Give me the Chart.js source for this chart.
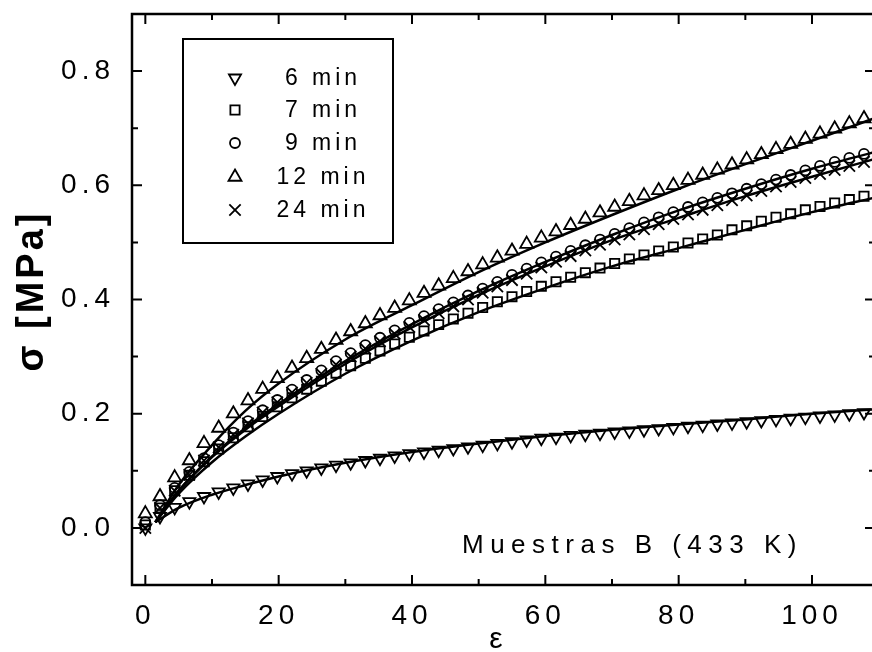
<!DOCTYPE html>
<html>
<head>
<meta charset="utf-8">
<script src="https://cdn.jsdelivr.net/npm/chart.js@4.4.1/dist/chart.umd.min.js"></script>
<style>
  html, body { margin: 0; padding: 0; overflow: hidden; background: #fff; }
  canvas { display: block; }
</style>
</head>
<body>
<canvas id="grafico_tension" width="872" height="652"></canvas>
<script>
// deformacion (eps) de cada medida
const eps = [0, 2.2, 4.4, 6.6, 8.8, 11, 13.2, 15.4, 17.6, 19.8,
  22, 24.2, 26.4, 28.6, 30.8, 33, 35.2, 37.4, 39.6, 41.8,
  44, 46.2, 48.4, 50.6, 52.8, 55, 57.2, 59.4, 61.6, 63.8,
  66, 68.2, 70.4, 72.6, 74.8, 77, 79.2, 81.4, 83.6, 85.8,
  88, 90.2, 92.4, 94.6, 96.8, 99, 101.2, 103.4, 105.6, 107.8];

// tension [MPa] medida
const s6 = [0.0, 0.02, 0.036, 0.046, 0.055, 0.063, 0.07, 0.077, 0.084, 0.09,
  0.095, 0.1, 0.105, 0.11, 0.114, 0.118, 0.122, 0.126, 0.13, 0.133,
  0.136, 0.139, 0.142, 0.145, 0.148, 0.151, 0.154, 0.157, 0.159, 0.162,
  0.164, 0.166, 0.168, 0.17, 0.172, 0.174, 0.176, 0.178, 0.18, 0.182,
  0.184, 0.186, 0.188, 0.19, 0.192, 0.194, 0.196, 0.198, 0.2, 0.202];
const s7 = [0.005, 0.035, 0.065, 0.092, 0.116, 0.138, 0.158, 0.177, 0.195, 0.212,
  0.228, 0.243, 0.257, 0.271, 0.284, 0.297, 0.31, 0.322, 0.334, 0.345,
  0.356, 0.366, 0.376, 0.386, 0.396, 0.405, 0.414, 0.423, 0.431, 0.439,
  0.447, 0.455, 0.463, 0.471, 0.478, 0.485, 0.492, 0.499, 0.506, 0.513,
  0.522, 0.529, 0.537, 0.544, 0.55, 0.557, 0.563, 0.569, 0.575, 0.581];
const s9 = [0.01, 0.04, 0.07, 0.098, 0.122, 0.145, 0.167, 0.187, 0.206, 0.224,
  0.242, 0.259, 0.276, 0.292, 0.306, 0.32, 0.333, 0.346, 0.359, 0.371,
  0.383, 0.395, 0.407, 0.419, 0.431, 0.443, 0.454, 0.465, 0.475, 0.485,
  0.495, 0.505, 0.515, 0.525, 0.535, 0.544, 0.553, 0.562, 0.57, 0.578,
  0.586, 0.594, 0.602, 0.61, 0.618, 0.626, 0.634, 0.641, 0.648, 0.655];
const s12 = [0.025, 0.055, 0.088, 0.118, 0.148, 0.175, 0.2, 0.223, 0.243, 0.262,
  0.28, 0.297, 0.313, 0.329, 0.344, 0.358, 0.372, 0.385, 0.398, 0.411,
  0.424, 0.437, 0.449, 0.461, 0.473, 0.485, 0.497, 0.508, 0.519, 0.53,
  0.541, 0.552, 0.562, 0.572, 0.582, 0.591, 0.6, 0.609, 0.618, 0.627,
  0.636, 0.645, 0.654, 0.663, 0.672, 0.681, 0.69, 0.699, 0.708, 0.717];
const s24 = [0.0, 0.035, 0.065, 0.093, 0.118, 0.141, 0.163, 0.183, 0.202, 0.22,
  0.237, 0.254, 0.27, 0.286, 0.3, 0.314, 0.327, 0.34, 0.352, 0.364,
  0.376, 0.388, 0.4, 0.412, 0.423, 0.434, 0.445, 0.456, 0.466, 0.476,
  0.486, 0.496, 0.505, 0.514, 0.523, 0.532, 0.541, 0.549, 0.557, 0.565,
  0.574, 0.582, 0.59, 0.598, 0.606, 0.613, 0.62, 0.627, 0.634, 0.641];

// curvas de ajuste
const fitEps = [1.5, 5, 10, 15, 20, 30, 40, 50, 60, 70, 80, 90, 100, 110];
const fit6 = [0.01, 0.035, 0.058, 0.075, 0.09, 0.114, 0.133, 0.148, 0.161, 0.172, 0.181, 0.19, 0.2, 0.208];
const fit7 = [0.01, 0.06, 0.115, 0.16, 0.2, 0.27, 0.328, 0.378, 0.42, 0.458, 0.49, 0.522, 0.553, 0.58];
const fit9 = [0.01, 0.065, 0.125, 0.175, 0.217, 0.292, 0.357, 0.415, 0.466, 0.513, 0.556, 0.594, 0.629, 0.66];
const fit12 = [0.01, 0.075, 0.145, 0.205, 0.253, 0.33, 0.39, 0.448, 0.5, 0.548, 0.594, 0.637, 0.678, 0.72];
const fit24 = [0.01, 0.065, 0.124, 0.172, 0.213, 0.287, 0.351, 0.408, 0.458, 0.504, 0.543, 0.581, 0.615, 0.648];

const etiquetas = ['6 min', '7 min', '9 min', '12 min', '24 min'];
const xTicks = [0, 20, 40, 60, 80, 100];
const xMinor = [10, 30, 50, 70, 90];
const yTicks = [0, 0.2, 0.4, 0.6, 0.8];
const yMinor = [0.1, 0.3, 0.5, 0.7];

const fuente = "'Liberation Sans', Arial, sans-serif";

const marcadores = [
    { pointStyle: 'triangle', rotation: 180, radius: 7 },
    { pointStyle: 'rect', rotation: 0, radius: 6.5 },
    { pointStyle: 'circle', rotation: 0, radius: 5 },
    { pointStyle: 'triangle', rotation: 0, radius: 7.5 },
    { pointStyle: 'crossRot', rotation: 0, radius: 8 }
];

function puntos(xs, ys){
    return xs.map((v, i) => ({ x: v, y: ys[i] }));
}

function serieMarcas(ys, m, label){
    return {
        label: label,
        data: puntos(eps, ys),
        showLine: false,
        pointStyle: m.pointStyle,
        pointRotation: m.rotation,
        pointRadius: m.radius,
        pointBorderWidth: 1.8,
        pointBorderColor: '#000',
        pointBackgroundColor: 'rgba(0,0,0,0)',
        borderColor: '#000'
    };
}

function serieAjuste(ys){
    return {
        label: 'ajuste',
        data: puntos(fitEps, ys),
        borderColor: '#000',
        borderWidth: 2.5,
        pointRadius: 0,
        fill: false,
        cubicInterpolationMode: 'monotone'
    };
}

function dibujaMarca(ctx, m, x, y){
    const r = m.radius;
    ctx.beginPath();
    if (m.pointStyle === 'triangle') {
        let rad = m.rotation * Math.PI / 180;
        ctx.moveTo(x + Math.sin(rad) * r, y - Math.cos(rad) * r);
        rad += 2 * Math.PI / 3;
        ctx.lineTo(x + Math.sin(rad) * r, y - Math.cos(rad) * r);
        rad += 2 * Math.PI / 3;
        ctx.lineTo(x + Math.sin(rad) * r, y - Math.cos(rad) * r);
        ctx.closePath();
    } else if (m.pointStyle === 'rect') {
        const s = r * Math.SQRT1_2;
        ctx.rect(x - s, y - s, 2 * s, 2 * s);
    } else if (m.pointStyle === 'circle') {
        ctx.arc(x, y, r, 0, 2 * Math.PI);
    } else {
        const d = r * Math.SQRT1_2;
        ctx.moveTo(x - d, y - d); ctx.lineTo(x + d, y + d);
        ctx.moveTo(x - d, y + d); ctx.lineTo(x + d, y - d);
    }
    ctx.stroke();
}

function sinPadding(s){
    s.paddingTop = 0;
    s.paddingBottom = 0;
    s.paddingLeft = 0;
    s.paddingRight = 0;
}

const marco = {
    id: 'marco',
    beforeDraw(chart){
        const ctx = chart.ctx;
        ctx.save();
        ctx.fillStyle = '#fff';
        ctx.fillRect(0, 0, chart.width, chart.height);
        ctx.restore();
        ctx.letterSpacing = '5px';
    },
    afterDraw(chart){
        const {ctx, chartArea: a, scales: {x, y}} = chart;
        // el eje derecho queda justo fuera del recorte de la figura
        const derecha = a.right + 3;
        ctx.save();
        ctx.letterSpacing = '0px';
        ctx.strokeStyle = '#000';
        ctx.lineWidth = 2.5;
        ctx.beginPath();
        ctx.moveTo(derecha + 2, a.top);
        ctx.lineTo(a.left, a.top);
        ctx.lineTo(a.left, a.bottom);
        ctx.lineTo(derecha + 2, a.bottom);
        ctx.stroke();

        // marcas hacia adentro
        ctx.lineWidth = 2;
        ctx.beginPath();
        const tx = (v, len) => {
            const px = x.getPixelForValue(v);
            ctx.moveTo(px, a.bottom); ctx.lineTo(px, a.bottom - len);
            ctx.moveTo(px, a.top); ctx.lineTo(px, a.top + len);
        };
        const ty = (v, len) => {
            const py = y.getPixelForValue(v);
            ctx.moveTo(a.left, py); ctx.lineTo(a.left + len, py);
            ctx.moveTo(derecha, py); ctx.lineTo(derecha - len, py);
        };
        xTicks.forEach(v => tx(v, 10));
        xMinor.forEach(v => tx(v, 6));
        yTicks.forEach(v => ty(v, 10));
        yMinor.forEach(v => ty(v, 6));
        ctx.stroke();

        // leyenda
        ctx.lineWidth = 2;
        ctx.strokeRect(183, 39, 210, 204);
        const filas = [78, 110, 143, 177, 210];
        ctx.lineWidth = 1.8;
        marcadores.forEach((m, i) => dibujaMarca(ctx, m, 235, filas[i]));
        ctx.fillStyle = '#000';
        ctx.font = '23px ' + fuente;
        ctx.letterSpacing = '4px';
        ctx.textAlign = 'center';
        ctx.textBaseline = 'middle';
        etiquetas.forEach((t, i) => ctx.fillText(t, 323, filas[i] + 1));

        // texto de la muestra
        ctx.font = '26px ' + fuente;
        ctx.letterSpacing = '6.5px';
        ctx.textAlign = 'left';
        ctx.fillText('Muestras B (433 K)', 462, 546);

        // titulos de los ejes
        ctx.letterSpacing = '0px';
        ctx.font = '30px ' + fuente;
        ctx.textAlign = 'center';
        ctx.fillText('ε', 496, 640);

        ctx.translate(33, 291);
        ctx.rotate(-Math.PI / 2);
        ctx.font = 'bold 38px ' + fuente;
        ctx.letterSpacing = '3px';
        ctx.fillText('σ [MPa]', 0, 0);
        ctx.restore();
    }
};

const ctx = document.getElementById('grafico_tension').getContext('2d');
const grafico = new Chart(ctx, {
    type: 'line',
    data: {
        datasets: [
            serieAjuste(fit6),
            serieAjuste(fit7),
            serieAjuste(fit9),
            serieAjuste(fit12),
            serieAjuste(fit24),
            serieMarcas(s6, marcadores[0], etiquetas[0]),
            serieMarcas(s7, marcadores[1], etiquetas[1]),
            serieMarcas(s9, marcadores[2], etiquetas[2]),
            serieMarcas(s12, marcadores[3], etiquetas[3]),
            serieMarcas(s24, marcadores[4], etiquetas[4])
        ]
    },
    options: {
        responsive: false,
        animation: false,
        layout: { autoPadding: false, padding: { top: 14, right: 0, left: 0, bottom: 0 } },
        plugins: {
            legend: { display: false },
            tooltip: { enabled: false }
        },
        scales: {
            x: {
                type: 'linear',
                min: -2,
                max: 109,
                grid: { display: false, drawTicks: false },
                border: { display: false },
                afterFit(s){ s.height = 67; sinPadding(s); },
                afterBuildTicks(s){ s.ticks = xTicks.map(v => ({ value: v })); },
                ticks: {
                    color: '#000',
                    font: { family: fuente, size: 28 },
                    padding: 14,
                    maxRotation: 0,
                    autoSkip: false
                }
            },
            y: {
                type: 'linear',
                min: -0.1,
                max: 0.9,
                grid: { display: false, drawTicks: false },
                border: { display: false },
                afterFit(s){ s.width = 132; sinPadding(s); },
                afterBuildTicks(s){ s.ticks = yTicks.map(v => ({ value: v })); },
                ticks: {
                    color: '#000',
                    font: { family: fuente, size: 28 },
                    padding: 17,
                    autoSkip: false,
                    callback: v => v.toFixed(1)
                }
            }
        }
    },
    plugins: [marco]
});
</script>
</body>
</html>
